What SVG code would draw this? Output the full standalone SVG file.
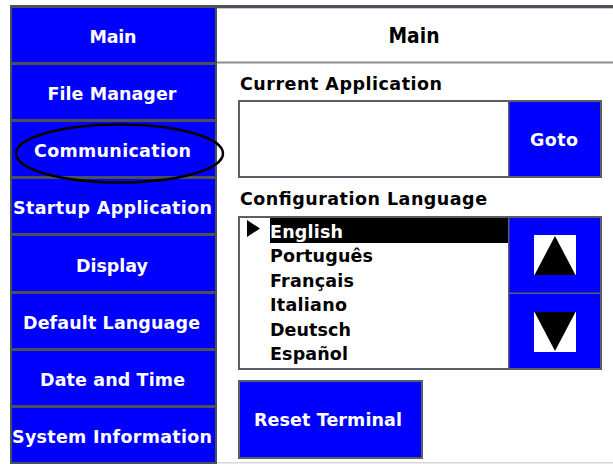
<svg xmlns="http://www.w3.org/2000/svg" width="613" height="464" viewBox="0 0 613 464">
  <style>
    .frame { fill: #4b5059; }
    .btn { fill: #0000ff; }
    .edge { stroke: #5a5e66; stroke-width: 2; }
    .lbl { font-family: "DejaVu Sans", "Liberation Sans", sans-serif; font-weight: bold; font-size: 17.5px; }
    .big { font-size: 22px; }
    .w { fill: #ffffff; text-anchor: middle; }
    .k { fill: #000000; }
  </style>
  <rect x="0" y="0" width="613" height="464" fill="#ffffff"/>

  <!-- outer frame and top band -->
  <rect class="frame" x="10" y="5" width="603" height="3"/>
  <rect x="217" y="8" width="396" height="1" fill="#c9cacc"/>
  <rect class="frame" x="10" y="5" width="207" height="459"/>

  <!-- navigation column -->
  <g id="nav-main"><rect class="btn" x="12" y="8" width="203" height="54"/><text class="lbl w" x="113" y="43" textLength="47">Main</text></g>
  <g id="nav-file-manager"><rect class="btn" x="12" y="65" width="203" height="54"/><text class="lbl w" x="112" y="100" textLength="129">File Manager</text></g>
  <g id="nav-communication"><rect class="btn" x="12" y="122" width="203" height="54"/><text class="lbl w" x="112.5" y="157" textLength="157">Communication</text></g>
  <g id="nav-startup"><rect class="btn" x="12" y="179" width="203" height="54"/><text class="lbl w" x="112.5" y="214" textLength="199">Startup Application</text></g>
  <g id="nav-display"><rect class="btn" x="12" y="236" width="203" height="55"/><text class="lbl w" x="112" y="272" textLength="72">Display</text></g>
  <g id="nav-default-language"><rect class="btn" x="12" y="294" width="203" height="54"/><text class="lbl w" x="111.5" y="329" textLength="177">Default Language</text></g>
  <g id="nav-date-time"><rect class="btn" x="12" y="351" width="203" height="54"/><text class="lbl w" x="112.5" y="386" textLength="145">Date and Time</text></g>
  <g id="nav-system-info"><rect class="btn" x="12" y="408" width="203" height="54"/><text class="lbl w" x="112" y="443" textLength="200">System Information</text></g>

  <!-- page header -->
  <g id="header">
    <text class="lbl big k" x="414" y="43" text-anchor="middle" textLength="51" lengthAdjust="spacingAndGlyphs">Main</text>
    <rect x="217" y="61.5" width="396" height="2" fill="#8c8e92"/>
  </g>
  <rect x="217" y="462" width="396" height="1.5" fill="#d6d6d6"/>

  <!-- current application -->
  <g id="current-application">
    <text class="lbl k" x="240" y="90" textLength="202">Current Application</text>
    <rect class="edge" x="239" y="101" width="362" height="76" fill="#ffffff"/>
  </g>
  <g id="goto">
    <rect class="btn" x="509" y="102" width="91" height="74"/>
    <rect x="508" y="101" width="1.5" height="76" fill="#5a5e66"/>
    <text class="lbl w" x="554" y="146" textLength="48">Goto</text>
  </g>

  <!-- configuration language list -->
  <g id="configuration-language">
    <text class="lbl k" x="240" y="205" textLength="247">Configuration Language</text>
    <rect class="edge" x="239" y="217" width="362" height="152" fill="#ffffff"/>
    <rect x="270" y="218" width="238" height="25" fill="#000000"/>
    <polygon points="247,220 260,228.5 247,237" fill="#000000"/>
    <text class="lbl" x="270" y="238" fill="#ffffff" textLength="73">English</text>
    <text class="lbl k" x="270" y="262" textLength="103">Português</text>
    <text class="lbl k" x="270" y="287" textLength="84">Français</text>
    <text class="lbl k" x="270" y="311" textLength="77">Italiano</text>
    <text class="lbl k" x="270" y="336" textLength="81">Deutsch</text>
    <text class="lbl k" x="270" y="360" textLength="78">Español</text>
  </g>
  <g id="scroll-up">
    <rect class="btn" x="509" y="218" width="91" height="75"/>
    <rect x="534" y="235" width="42" height="40" fill="#ffffff"/>
    <polygon points="555,236 534.5,275 575.5,275" fill="#000000"/>
  </g>
  <g id="scroll-down">
    <rect class="btn" x="509" y="294" width="91" height="74"/>
    <rect x="534" y="312" width="42" height="40" fill="#ffffff"/>
    <polygon points="534.5,312 575.5,312 555,351" fill="#000000"/>
  </g>
  <rect x="508" y="217" width="1.5" height="152" fill="#5a5e66"/>
  <rect x="509" y="292.5" width="92" height="1.5" fill="#5a5e66"/>

  <!-- reset -->
  <g id="reset-terminal">
    <rect class="edge" x="239" y="381" width="183" height="77" fill="#0000ff"/>
    <text class="lbl w" x="328" y="426" textLength="148">Reset Terminal</text>
  </g>

  <!-- highlight ring around the Communication entry -->
  <g id="annotations">
    <ellipse cx="119.5" cy="153.5" rx="103.5" ry="29" fill="none" stroke="#000000" stroke-width="2.5"/>
  </g>
</svg>
